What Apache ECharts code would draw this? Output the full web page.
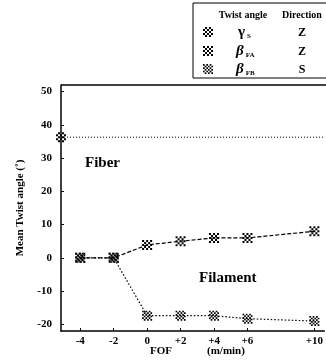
<!DOCTYPE html>
<html><head><meta charset="utf-8">
<script src="https://cdn.jsdelivr.net/npm/echarts@6/dist/echarts.min.js"></script>
<style>html,body{margin:0;padding:0;background:#fff}#c{width:326px;height:363px}</style>
</head><body><div id="c"></div>
<script>
// Data
const fofX = [-4, -2, 0, 2, 4, 6, 10];
const betaFA = [0, 0, 3.9, 5, 6, 6, 8];
const betaFB = [0, 0, -17.4, -17.4, -17.4, -18.3, -19];
const fiberX = [-5.15, 10.6];
const fiberY = [36.3, 36.3];
const xTicks = [-4, -2, 0, 2, 4, 6, 10];
const yTicks = [-20, -10, 0, 10, 20, 30, 40, 50];

function cells(n, skip) {
  const out = [];
  for (let r = 0; r < n; r++) for (let c = 0; c < n; c++) if ((r + c) % 2 === skip) out.push([c, r]);
  return out;
}
function checker(n, skip) {
  return 'path://' + cells(n, skip).map(([c, r]) => 'M' + c + ' ' + r + 'h1v1h-1z').join('');
}
function checkerGroup(n, skip, x, y, size) {
  const s = size / n;
  return {type: 'group', x: x, y: y, children: cells(n, skip).map(([c, r]) => ({
    type: 'rect', shape: {x: c * s, y: r * s, width: s, height: s}, style: {fill: '#000'}}))};
}
const symA = checker(5, 0);
const symB = checker(6, 0);
const symG = checker(5, 1);

const F = 'Liberation Serif';
const chart = echarts.init(document.getElementById('c'));
chart.setOption({
  animation: false,
  grid: {left: 61, right: 0, top: 85, bottom: 32},
  xAxis: {
    type: 'value', min: -5.15, max: 10.6,
    axisLine: {onZero: false, lineStyle: {color: '#000', width: 1.5}},
    splitLine: {show: false},
    axisTick: {inside: true, length: 3, customValues: xTicks, lineStyle: {color: '#000'}},
    axisLabel: {customValues: xTicks, color: '#000', fontFamily: F, fontWeight: 'bold', fontSize: 11, margin: 5,
      formatter: v => v > 0 ? '+' + v : String(v)}
  },
  yAxis: {
    type: 'value', min: -22, max: 52,
    name: 'Mean Twist angle (˚)', nameLocation: 'middle', nameGap: 35, nameRotate: 90,
    nameTextStyle: {color: '#000', fontFamily: F, fontWeight: 'bold', fontSize: 11},
    axisLine: {onZero: false, lineStyle: {color: '#000', width: 1.5}},
    splitLine: {show: false},
    axisTick: {inside: true, length: 3, customValues: yTicks, lineStyle: {color: '#000'}},
    axisLabel: {customValues: yTicks, color: '#000', fontFamily: F, fontWeight: 'bold', fontSize: 11, margin: 9}
  },
  series: [
    {type: 'line', clip: false, data: fiberX.map((x, i) => ({value: [x, fiberY[i]], symbol: i === 0 ? symG : 'none'})),
     symbolSize: 10, lineStyle: {color: '#000', width: 1, type: [1, 2]}, itemStyle: {color: '#000'}, z: 3},
    {type: 'line', data: fofX.map((x, i) => [x, betaFA[i]]), symbol: symA, symbolSize: 10,
     lineStyle: {color: '#000', width: 1.2, type: [4, 2]}, itemStyle: {color: '#000'}},
    {type: 'line', data: fofX.map((x, i) => [x, betaFB[i]]), symbol: symB, symbolSize: 10,
     lineStyle: {color: '#000', width: 1.2, type: [1.5, 2]}, itemStyle: {color: '#000'}}
  ],
  graphic: [
    {type: 'line', shape: {x1: 61, y1: 85, x2: 326, y2: 85}, style: {stroke: '#000', lineWidth: 1.5}},
    {type: 'text', x: 85, y: 163, style: {text: 'Fiber', font: 'bold 15px "Liberation Serif"', fill: '#000', verticalAlign: 'middle'}},
    {type: 'text', x: 199, y: 278, style: {text: 'Filament', font: 'bold 15px "Liberation Serif"', fill: '#000', verticalAlign: 'middle'}},
    {type: 'text', x: 150, y: 351, style: {text: 'FOF', font: 'bold 11px "Liberation Serif"', fill: '#000', verticalAlign: 'middle'}},
    {type: 'text', x: 207, y: 351, style: {text: '(m/min)', font: 'bold 11px "Liberation Serif"', fill: '#000', verticalAlign: 'middle'}},
    {type: 'rect', shape: {x: 193, y: 3, width: 140, height: 75}, style: {fill: 'none', stroke: '#000', lineWidth: 1}},
    {type: 'text', x: 243, y: 15, style: {text: 'Twist angle', font: 'bold 10px "Liberation Serif"', fill: '#000', align: 'center', verticalAlign: 'middle'}},
    {type: 'text', x: 302, y: 15, style: {text: 'Direction', font: 'bold 10px "Liberation Serif"', fill: '#000', align: 'center', verticalAlign: 'middle'}},
    checkerGroup(5, 1, 203, 27, 10),
    checkerGroup(5, 0, 203, 46, 10),
    checkerGroup(6, 0, 203, 64, 10),
    {type: 'text', x: 238, y: 32, style: {text: '{g|γ}{s|S}', fill: '#000', verticalAlign: 'middle', rich: {g: {fontFamily: F, fontWeight: 'bold', fontSize: 15, fill: '#000'}, s: {fontFamily: F, fontWeight: 'bold', fontSize: 7, fill: '#000', padding: [8, 0, 0, 2]}}}},
    {type: 'text', x: 236, y: 51, style: {text: '{g|β}{s|FA}', fill: '#000', verticalAlign: 'middle', rich: {g: {fontFamily: F, fontWeight: 'bold', fontStyle: 'italic', fontSize: 15, fill: '#000'}, s: {fontFamily: F, fontWeight: 'bold', fontSize: 7, fill: '#000', padding: [8, 0, 0, 2]}}}},
    {type: 'text', x: 236, y: 69, style: {text: '{g|β}{s|FB}', fill: '#000', verticalAlign: 'middle', rich: {g: {fontFamily: F, fontWeight: 'bold', fontStyle: 'italic', fontSize: 15, fill: '#000'}, s: {fontFamily: F, fontWeight: 'bold', fontSize: 7, fill: '#000', padding: [8, 0, 0, 2]}}}},
    {type: 'text', x: 302, y: 33, style: {text: 'Z', font: 'bold 12px "Liberation Serif"', fill: '#000', align: 'center', verticalAlign: 'middle'}},
    {type: 'text', x: 302, y: 52, style: {text: 'Z', font: 'bold 12px "Liberation Serif"', fill: '#000', align: 'center', verticalAlign: 'middle'}},
    {type: 'text', x: 302, y: 70, style: {text: 'S', font: 'bold 12px "Liberation Serif"', fill: '#000', align: 'center', verticalAlign: 'middle'}}
  ]
});
</script></body></html>
